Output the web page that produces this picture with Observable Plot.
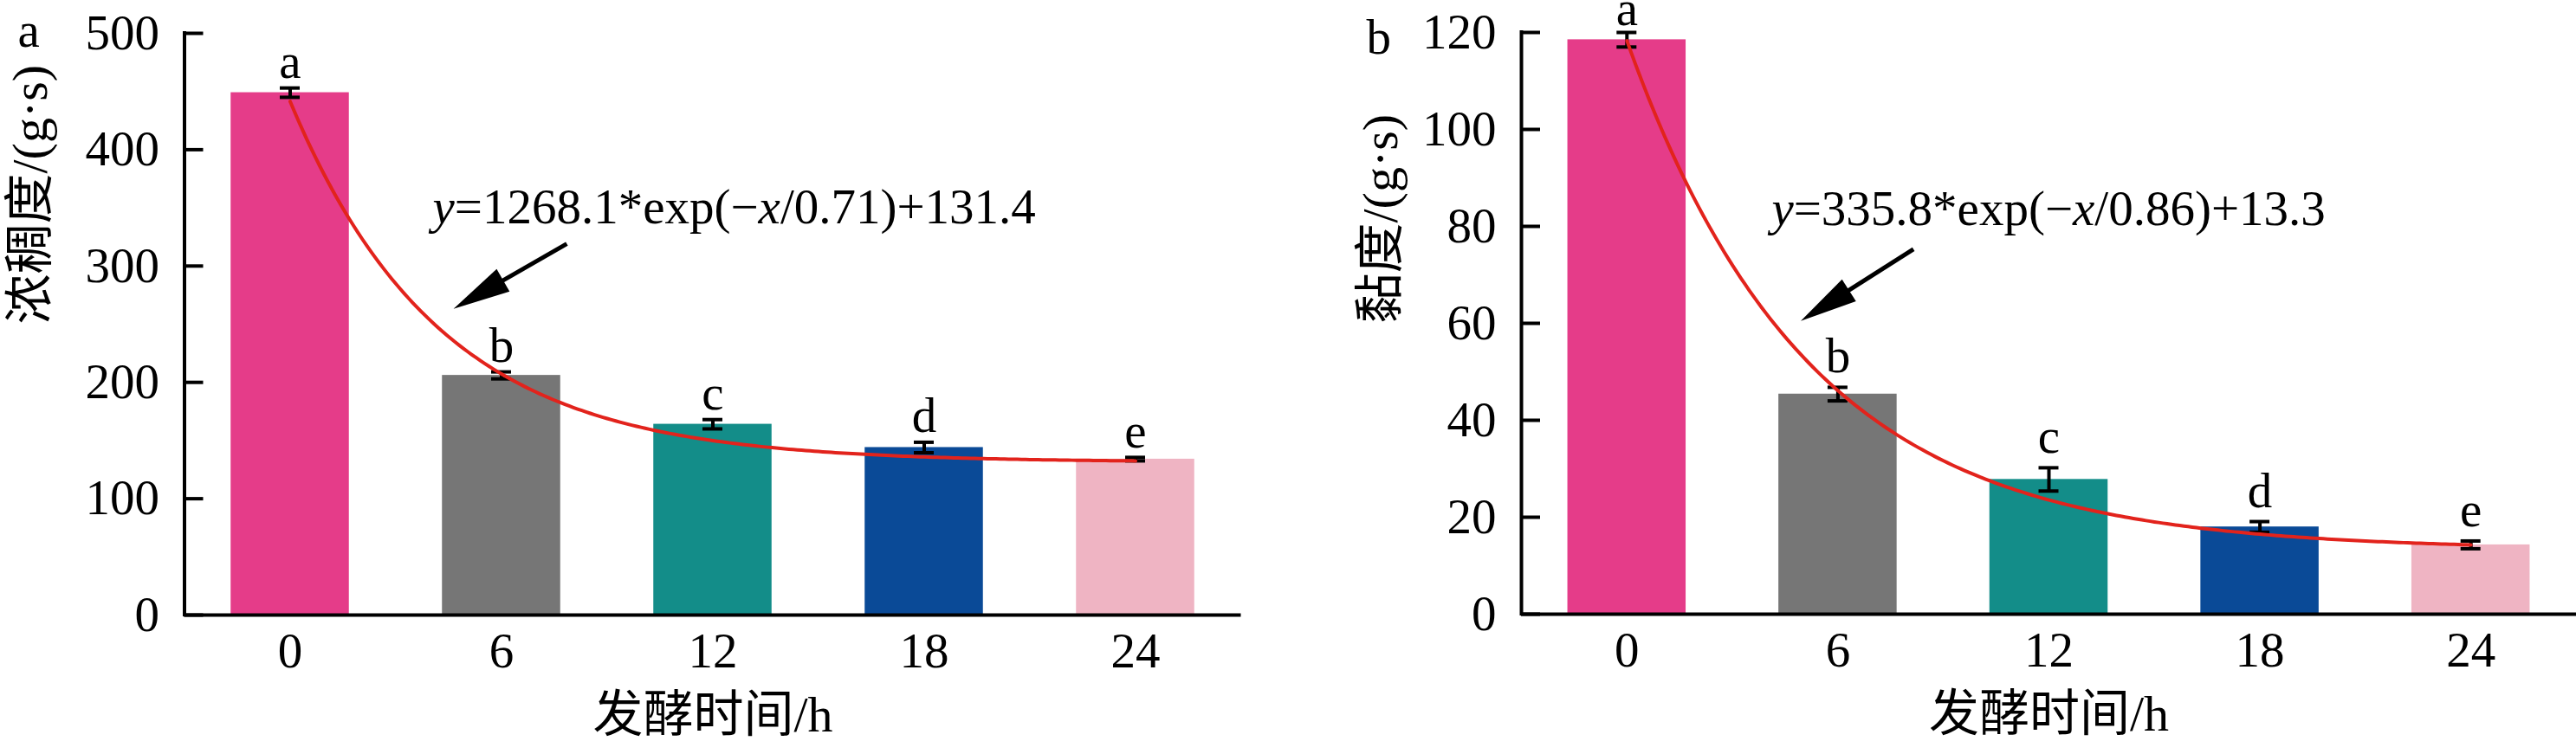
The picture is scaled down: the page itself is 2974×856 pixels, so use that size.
<!DOCTYPE html>
<html><head><meta charset="utf-8">
<script src="https://cdn.jsdelivr.net/npm/d3@7"></script>
<script src="https://cdn.jsdelivr.net/npm/@observablehq/plot@0.6"></script>
<style>
body{margin:0;background:#fff;}
#wrap{position:relative;width:2974px;height:856px;overflow:hidden;}
#pa{position:absolute;left:0;top:0;}
#pb{position:absolute;left:1500px;top:0;}
</style></head><body><div id="wrap"><div id="pa"></div><div id="pb"></div></div>
<script>
// ---- data ----
const hours = [0, 6, 12, 18, 24];            // x tick labels (fermentation time, h)
const fitX = [1, 2, 3, 4, 5];                // x used by the fitted equations
const letters = ["a", "b", "c", "d", "e"];
const colors = ["#E53C89", "#767676", "#138D89", "#0A4A97", "#EFB4C3"];
const consistency = [449, 206, 164, 144, 134];
const consistencyErr = [4, 3, 4, 4.5, 1.5];
const viscosity = [118.5, 45.4, 27.8, 18.0, 14.3];
const viscosityErr = [1.5, 1.4, 2.4, 1.1, 0.8];
const consistencyTicks = [0, 100, 200, 300, 400, 500];
const viscosityTicks = [0, 20, 40, 60, 80, 100, 120];
const consistencyFit = [1268.1, 0.71, 131.4];   // A, t, y0
const viscosityFit = [335.8, 0.86, 13.3];
const consistencyEq = "y=1268.1*exp(−x/0.71)+131.4";
const viscosityEq = "y=335.8*exp(−x/0.86)+13.3";
const consistencyEqAt = [1.674, 336.8];
const viscosityEqAt = [1.686, 80.2];
const consistencyArrow = [2.311, 318.7, 1.775, 262.9];
const viscosityArrow = [2.36, 75.2, 1.826, 60.4];
const xTitle = "发酵时间/h";
const consistencyTitle = "浓稠度/(g·s)";
const viscosityTitle = "黏度/(g·s)";

// ---- drawing ----
const FONT = "'Liberation Serif','Times New Roman','DejaVu Serif','Noto Sans CJK SC',serif";
const RED = "#E2231C";

function arrowMark(a) {
  return (index, scales) => {
    const g = d3.create("svg:g");
    const x1 = scales.x(a[0]), y1 = scales.y(a[1]), x2 = scales.x(a[2]), y2 = scales.y(a[3]);
    const ang = Math.atan2(y2 - y1, x2 - x1);
    const L = 66, W = 15;
    const bx = x2 - L * Math.cos(ang), by = y2 - L * Math.sin(ang);
    const nx = -Math.sin(ang), ny = Math.cos(ang);
    g.append("line").attr("x1", x1).attr("y1", y1).attr("x2", bx + 5 * Math.cos(ang)).attr("y2", by + 5 * Math.sin(ang))
      .attr("stroke", "black").attr("stroke-width", 5);
    g.append("path").attr("d", `M${x2},${y2}L${bx + nx * W},${by + ny * W}L${bx - nx * W},${by - ny * W}Z`).attr("fill", "black");
    return g.node();
  };
}

function panel(cfg) {
  const rows = hours.map((h, i) => ({x: fitX[i], v: cfg.values[i], e: cfg.errs[i], letter: letters[i], color: colors[i]}));
  const [A, t, c] = cfg.fit;
  const curve = d3.range(fitX[0], fitX[fitX.length - 1] + 1e-9, 0.02).map(x => ({x, y: A * Math.exp(-x / t) + c}));
  const xDomain = [fitX[0] - 0.5, fitX[fitX.length - 1] + 0.5];
  const yMax = cfg.ticks[cfg.ticks.length - 1];
  const innerW = cfg.width - cfg.ml - cfg.mr;
  const pxPerX = innerW / (xDomain[1] - xDomain[0]);
  const barHalf = 68.25 / pxPerX, capHalf = 11.5 / pxPerX;
  return Plot.plot({
    width: cfg.width, height: 856,
    marginLeft: cfg.ml, marginRight: cfg.mr, marginTop: cfg.mt, marginBottom: 856 - cfg.bottom,
    style: {fontFamily: FONT, fontSize: "57px", background: "white", color: "black", overflow: "visible"},
    x: {domain: xDomain},
    y: {domain: [0, yMax]},
    color: {type: "identity"},
    marks: [
      Plot.rectY(rows, {x1: d => d.x - barHalf, x2: d => d.x + barHalf, y1: 0, y2: "v", fill: "color"}),
      Plot.ruleX(rows, {x: "x", y1: d => d.v - d.e, y2: d => d.v + d.e, stroke: "black", strokeWidth: 4}),
      Plot.ruleY(rows, {y: d => d.v + d.e, x1: d => d.x - capHalf, x2: d => d.x + capHalf, stroke: "black", strokeWidth: 4}),
      Plot.ruleY(rows, {y: d => d.v - d.e, x1: d => d.x - capHalf, x2: d => d.x + capHalf, stroke: "black", strokeWidth: 4}),
      Plot.line(curve, {x: "x", y: "y", stroke: RED, strokeWidth: 4}),
      Plot.text(rows.slice(0, 1), {x: "x", y: d => d.v + d.e, text: "letter", dy: cfg.dyA, lineAnchor: "bottom", fontSize: 57, fontFamily: FONT}),
      Plot.text(rows.slice(1), {x: "x", y: d => d.v + d.e, text: "letter", dy: cfg.dyL, lineAnchor: "bottom", fontSize: 57, fontFamily: FONT}),
      Plot.ruleY([0], {stroke: "black", strokeWidth: 4}),
      Plot.ruleX([xDomain[0]], {y1: 0, y2: yMax, stroke: "black", strokeWidth: 4, strokeLinecap: "square"}),
      Plot.tickY(cfg.ticks, {y: d => d, insetRight: innerW - 22, stroke: "black", strokeWidth: 4}),
      Plot.axisY({ticks: cfg.ticks, tickSize: 0, tickPadding: 29, label: null, fontSize: 57, fontFamily: FONT}),
      Plot.axisX({ticks: fitX, tickFormat: d => hours[fitX.indexOf(d)], tickSize: 0, tickPadding: 20, label: null, fontSize: 57, fontFamily: FONT}),
      Plot.text([cfg.eq], {x: cfg.eqAt[0], y: cfg.eqAt[1], textAnchor: "start", lineAnchor: "bottom", fontSize: 57, fontFamily: FONT}),
      arrowMark(cfg.arrow),
      Plot.text([xTitle], {frameAnchor: "bottom", dy: 134, lineAnchor: "bottom", fontSize: 58, fontFamily: FONT}),
      Plot.text([cfg.yTitle], {frameAnchor: "left", rotate: -90, dx: cfg.ytDx, lineAnchor: "middle", fontSize: 58, fontFamily: FONT}),
      Plot.text([cfg.tag], {frameAnchor: "top-left", dx: cfg.tagDx, dy: cfg.tagDy, textAnchor: "start", lineAnchor: "bottom", fontSize: 57, fontFamily: FONT})
    ]
  });
}

function italicize(svg) {
  d3.select(svg).selectAll("text").each(function () {
    const t = this.textContent;
    const m = t.match(/^(y)(=.*?−)(x)(.*)$/);
    if (!m) return;
    const sel = d3.select(this);
    sel.text(null);
    sel.append("tspan").attr("font-style", "italic").text(m[1]);
    sel.append("tspan").text(m[2]);
    sel.append("tspan").attr("font-style", "italic").text(m[3]);
    sel.append("tspan").text(m[4]);
  });
}

const pa = panel({width: 1500, ml: 212.5, mr: 67.5, mt: 38, bottom: 710,
  values: consistency, errs: consistencyErr, ticks: consistencyTicks, fit: consistencyFit,
  eq: consistencyEq, eqAt: consistencyEqAt, arrow: consistencyArrow, yTitle: consistencyTitle,
  ytDx: -178, tag: "a", tagDx: -192.5, tagDy: 15, dyA: -12, dyL: -11.5});
const pb = panel({width: 1474, ml: 256, mr: 0, mt: 37, bottom: 709,
  values: viscosity, errs: viscosityErr, ticks: viscosityTicks, fit: viscosityFit,
  eq: viscosityEq, eqAt: viscosityEqAt, arrow: viscosityArrow, yTitle: viscosityTitle,
  ytDx: -162, tag: "b", tagDx: -179, tagDy: 24, dyA: -9, dyL: -17});
italicize(pa); italicize(pb);
document.getElementById("pa").appendChild(pa);
document.getElementById("pb").appendChild(pb);
</script></body></html>
